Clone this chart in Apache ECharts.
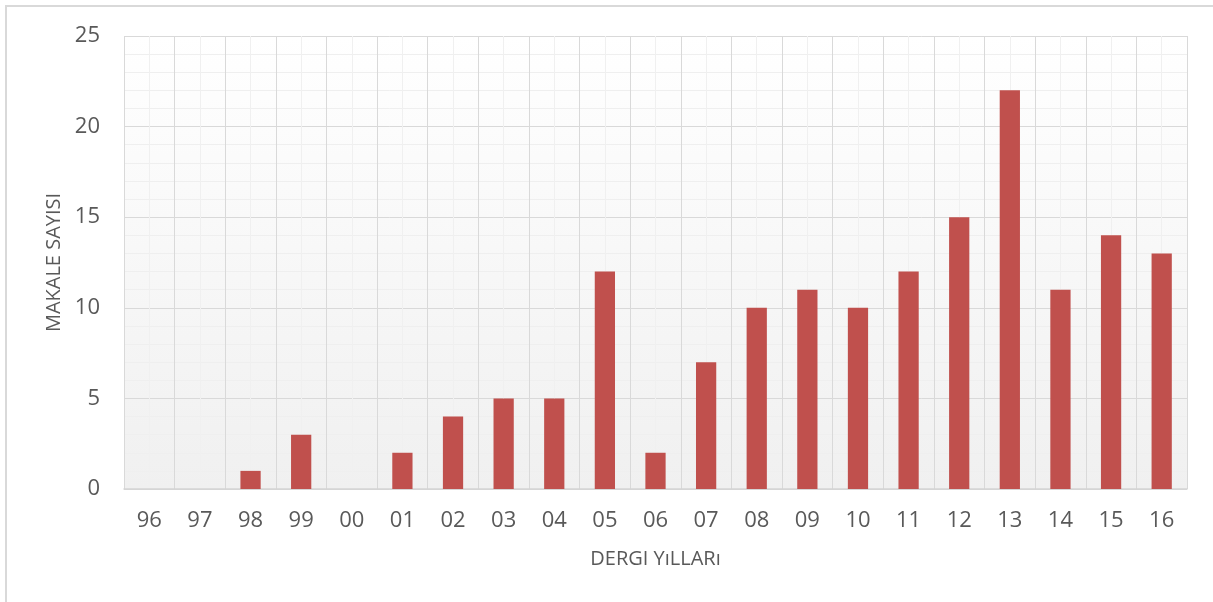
<!DOCTYPE html>
<html>
<head>
<meta charset="utf-8">
<script src="https://cdn.jsdelivr.net/npm/echarts@6/dist/echarts.min.js"></script>
<style>
  html, body { margin: 0; padding: 0; background: #fff; }
  #chart { width: 1213px; height: 602px; }
</style>
</head>
<body>
<div id="chart"></div>
<script>
"use strict";
var years = ["96", "97", "98", "99", "00", "01", "02", "03", "04", "05", "06",
  "07", "08", "09", "10", "11", "12", "13", "14", "15", "16"];
var articles = [0, 0, 1, 3, 0, 2, 4, 5, 5, 12, 2, 7, 10, 11, 10, 12, 15, 22, 11, 14, 13];
var yTicks = [0, 5, 10, 15, 20, 25];

var textColor = "#595959";
var font = "Open Sans";

var chart = echarts.init(document.getElementById("chart"));
chart.setOption({
  animation: false,
  graphic: [
    {
      type: "rect",
      shape: { x: 6, y: 6, width: 1220, height: 610 },
      style: { fill: "none", stroke: "#d9d9d9", lineWidth: 2 },
      silent: true,
    },
  ],
  grid: {
    left: 124,
    right: 26,
    top: 36,
    bottom: 113,
    show: true,
    borderWidth: 0,
    backgroundColor: new echarts.graphic.LinearGradient(0, 0, 0, 1, [
      { offset: 0, color: "#ffffff" },
      { offset: 1, color: "#f0f0f0" },
    ]),
  },
  xAxis: [
    {
      type: "category",
      data: years,
      name: "DERGI YıLLARı",
      nameLocation: "middle",
      nameGap: 60,
      nameTextStyle: { color: textColor, fontSize: 20, fontFamily: font },
      axisLine: { lineStyle: { color: "#d4d4d4", width: 1.5 } },
      axisTick: { show: false },
      axisLabel: { color: textColor, fontSize: 22, fontFamily: font, margin: 21 },
      splitLine: { show: true, lineStyle: { color: "#d9d9d9", width: 1 } },
    },
    {
      type: "value",
      min: 0,
      max: years.length,
      interval: 1,
      show: true,
      position: "bottom",
      axisLine: { show: false },
      axisTick: { show: false },
      axisLabel: { show: false },
      splitLine: { show: false },
      minorTick: { show: false, splitNumber: 2 },
      minorSplitLine: { show: true, lineStyle: { color: "#f0f0f0", width: 1 } },
    },
  ],
  yAxis: {
    type: "value",
    min: yTicks[0],
    max: yTicks[yTicks.length - 1],
    interval: 5,
    name: "MAKALE SAYISI",
    nameLocation: "middle",
    nameGap: 60,
    nameTextStyle: { color: textColor, fontSize: 20, fontFamily: font },
    axisLine: { show: false },
    axisTick: { show: false },
    axisLabel: { color: textColor, fontSize: 22, fontFamily: font, margin: 24 },
    splitLine: { lineStyle: { color: "#d9d9d9", width: 1 } },
    minorTick: { show: false, splitNumber: 5 },
    minorSplitLine: { show: true, lineStyle: { color: "#efefef", width: 1 } },
  },
  series: [
    {
      type: "bar",
      xAxisIndex: 0,
      data: articles,
      barWidth: "40%",
      itemStyle: { color: "#c0504d" },
    },
  ],
});
</script>
</body>
</html>
